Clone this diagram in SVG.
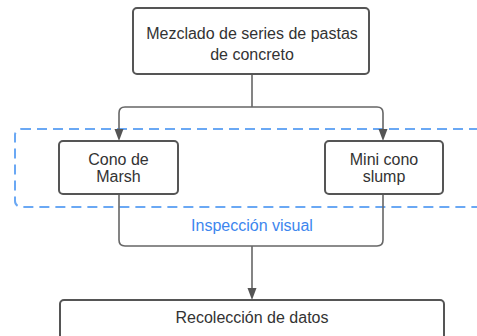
<svg xmlns="http://www.w3.org/2000/svg" width="477" height="336" viewBox="0 0 477 336">
  <style>
    .box { fill: #ffffff; stroke: #555555; stroke-width: 2; }
    .lbl { font-family: "Liberation Sans", Arial, sans-serif; font-size: 16px; fill: #333333; text-anchor: middle; }
    .link { fill: none; stroke: #666666; stroke-width: 1.6; }
    .group { fill: none; stroke: #6aa8f4; stroke-width: 2; stroke-dasharray: 10 6; }
    .glbl { font-family: "Liberation Sans", Arial, sans-serif; font-size: 16px; fill: #3d86ee; text-anchor: middle; }
  </style>
  <defs>
    <marker id="arrow" viewBox="0 0 10 12" refX="5" refY="12" markerWidth="10" markerHeight="12" markerUnits="userSpaceOnUse" orient="auto-start-reverse">
      <path d="M0,0 L10,0 L5,12 Z" fill="#555555"/>
    </marker>
  </defs>
  <rect width="477" height="336" fill="#ffffff"/>

  <!-- dashed grouping frame -->
  <g id="inspeccion">
    <rect class="group" x="15" y="129" width="480" height="78" rx="6"/>
    <text class="glbl" x="252" y="231">Inspección visual</text>
  </g>

  <g id="connectors">
    <path class="link" d="M252,74 V107 M252,107 H125 Q119,107 119,113 V129"/>
    <path class="link" d="M252,107 H377 Q383,107 383,113 V129"/>
    <path d="M114.5,129 L123.5,129 L119,141 Z" fill="#555555"/>
    <path d="M378.5,129 L387.5,129 L383,141 Z" fill="#555555"/>
    <path class="link" d="M119,194 V240 Q119,246 125,246 H377 Q383,246 383,240 V194"/>
    <path class="link" d="M252,246 V288"/>
    <path d="M247.5,288 L256.5,288 L252,300 Z" fill="#555555"/>
  </g>

  <g id="mezclado">
    <rect class="box" x="133" y="8" width="236" height="66" rx="4"/>
    <text class="lbl" x="252" y="39">Mezclado de series de pastas</text>
    <text class="lbl" x="252" y="60">de concreto</text>
  </g>

  <g id="marsh">
    <rect class="box" x="59" y="141" width="119" height="53" rx="4"/>
    <text class="lbl" x="118.5" y="165">Cono de</text>
    <text class="lbl" x="118.5" y="182">Marsh</text>
  </g>

  <g id="slump">
    <rect class="box" x="325" y="141" width="118" height="53" rx="4"/>
    <text class="lbl" x="384" y="165">Mini cono</text>
    <text class="lbl" x="384" y="182">slump</text>
  </g>

  <g id="datos">
    <rect class="box" x="60" y="300" width="384" height="60" rx="4"/>
    <text class="lbl" x="252" y="323">Recolección de datos</text>
  </g>
</svg>
